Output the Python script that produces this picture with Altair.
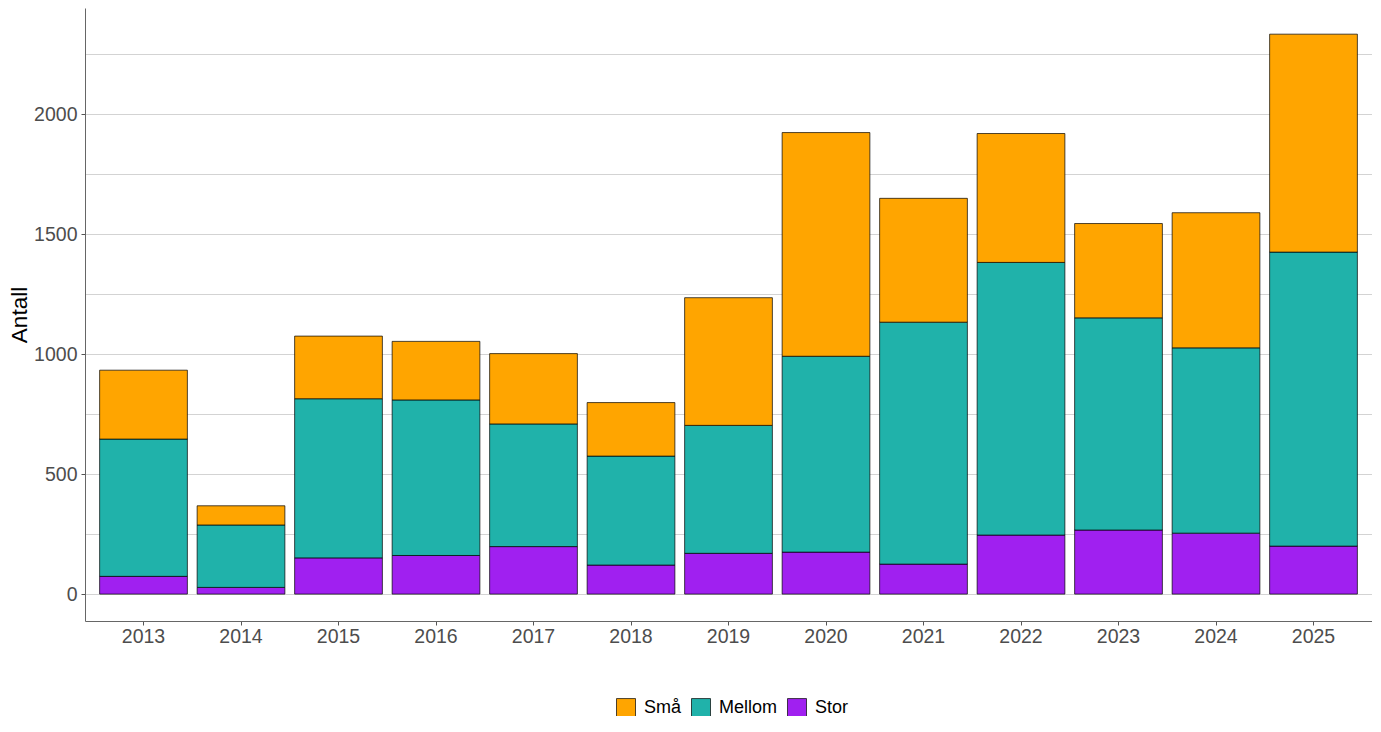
import altair as alt
import pandas as pd

years = [str(y) for y in range(2013, 2026)]
stor = [74, 28, 151, 161, 198, 121, 170, 175, 125, 246, 267, 254, 200]
mellom = [572, 260, 663, 648, 511, 454, 533, 816, 1008, 1136, 884, 772, 1225]
sma = [287, 80, 261, 244, 293, 223, 532, 932, 516, 537, 393, 563, 908]
categories = ["Små", "Mellom", "Stor"]
colors = ["#FFA500", "#20B2AA", "#A020F0"]
stack_rank = {"Stor": 1, "Mellom": 2, "Små": 3}
grid_values = list(range(0, 2251, 250))

rows = []
for i, yr in enumerate(years):
    for cat, vals in (("Stor", stor), ("Mellom", mellom), ("Små", sma)):
        rows.append({"År": yr, "Størrelse": cat, "Antall": vals[i], "rank": stack_rank[cat]})
df = pd.DataFrame(rows)

font = "Liberation Sans"

chart = alt.Chart(df).mark_bar(stroke="black", strokeWidth=0.7).encode(
    x=alt.X("År:N", sort=years,
            scale=alt.Scale(paddingInner=0.1, paddingOuter=0.15),
            axis=alt.Axis(title=None, labelAngle=0, tickSize=4, labelFontSize=19.5,
                          labelColor="#4D4D4D", labelPadding=2, tickColor="#555555",
                          domainColor="#666666", labelFont=font)),
    y=alt.Y("Antall:Q", stack="zero",
            scale=alt.Scale(domain=[-112, 2442], nice=False, zero=False),
            axis=alt.Axis(values=grid_values, title="Antall", titleFontSize=22.5,
                          titleFontWeight="normal", titleColor="black", titleFont=font,
                          titlePadding=2,
                          labelExpr="datum.value % 500 == 0 ? datum.label : ''",
                          labelFontSize=19.5, labelColor="#4D4D4D", labelFont=font,
                          labelPadding=4, tickSize=4, tickColor="#555555",
                          tickOpacity={"condition": {"test": "datum.value % 500 == 0", "value": 1}, "value": 0},
                          domainColor="#666666", grid=True, gridColor="#D3D3D3",
                          gridWidth=1, format="d")),
    color=alt.Color("Størrelse:N", sort=categories,
                    scale=alt.Scale(domain=categories, range=colors),
                    legend=alt.Legend(title=None, orient="none", direction="horizontal",
                                      legendX=531, legendY=690, symbolType="square",
                                      symbolSize=361, symbolStrokeColor="black",
                                      symbolStrokeWidth=0.7, labelFontSize=18,
                                      labelFont=font, labelColor="black",
                                      columnPadding=8, labelOffset=8)),
    order=alt.Order("rank:Q", sort="ascending"),
).properties(
    width=1287, height=613,
    autosize=alt.AutoSizeParams(type="none"),
    padding={"left": 77, "top": 0, "right": 0, "bottom": 95},
).configure(font=font).configure_view(stroke=None)

chart.save("out.html", embed_options={"renderer": "svg", "actions": False})
